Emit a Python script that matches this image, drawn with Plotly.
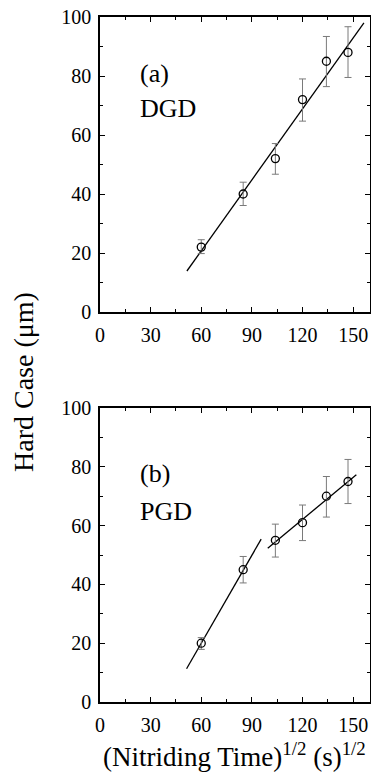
import plotly.graph_objects as go

# ---- data ----
x_time = [60, 84.85, 103.92, 120, 134.16, 146.97]

dgd_case = [22, 40, 52, 72, 85, 88]
dgd_err_plus = [2.5, 4.0, 5.1, 7.0, 8.4, 8.7]
dgd_err_minus = [2.2, 3.9, 5.3, 7.3, 8.6, 8.5]
dgd_fit_x = [51.5, 156.4]
dgd_fit_y = [13.9, 98.0]

pgd_case = [20, 45, 55, 61, 70, 75]
pgd_err_plus = [1.9, 4.5, 5.5, 6.0, 6.7, 7.5]
pgd_err_minus = [2.1, 4.5, 5.7, 6.1, 7.1, 7.5]
pgd_fit1_x = [51.3, 95.5]
pgd_fit1_y = [11.3, 55.4]
pgd_fit2_x = [99.4, 151.9]
pgd_fit2_y = [52.3, 77.3]

x_ticks = [0, 30, 60, 90, 120, 150]
y_ticks = [0, 20, 40, 60, 80, 100]

FONT = "Liberation Serif, Times New Roman, Times, serif"
err_col = "#7a7a7a"

W, H = 371, 774
ML, MR, MT, MB = 100, 1, 17, 72
PW = W - ML - MR
PH = H - MT - MB

fig = go.Figure()

def add_points(y, ep, em, xa, ya):
    fig.add_trace(go.Scatter(
        x=x_time, y=y, mode="markers", xaxis=xa, yaxis=ya,
        marker=dict(symbol="circle-open", size=8, color="black", line=dict(width=1.3, color="black")),
        error_y=dict(type="data", array=ep, arrayminus=em, color=err_col, thickness=1, width=3.5),
        showlegend=False))

def add_line(xs, ys, xa, ya):
    fig.add_trace(go.Scatter(x=xs, y=ys, mode="lines", xaxis=xa, yaxis=ya,
                             line=dict(color="black", width=1.3), showlegend=False))

add_line(dgd_fit_x, dgd_fit_y, "x", "y")
add_points(dgd_case, dgd_err_plus, dgd_err_minus, "x", "y")
add_line(pgd_fit1_x, pgd_fit1_y, "x2", "y2")
add_line(pgd_fit2_x, pgd_fit2_y, "x2", "y2")
add_points(pgd_case, pgd_err_plus, pgd_err_minus, "x2", "y2")

xcommon = dict(range=[0, 160], tickvals=x_ticks, ticks="inside", ticklen=5, tickwidth=1.2,
               tickcolor="black", showline=True, linecolor="black", linewidth=1.5,
               mirror="ticks", showgrid=False, zeroline=False, automargin=False,
               ticklabelstandoff=4,
               tickfont=dict(family=FONT, size=20, color="black"),
               minor=dict(dtick=15, tick0=0, ticks="inside", ticklen=3, tickcolor="black", showgrid=False))
ycommon = dict(range=[0, 100], tickvals=y_ticks, ticks="inside", ticklen=5, tickwidth=1.2,
               tickcolor="black", showline=True, linecolor="black", linewidth=1.5,
               mirror="ticks", showgrid=False, zeroline=False, automargin=False,
               ticklabelstandoff=3,
               tickfont=dict(family=FONT, size=20, color="black"),
               minor=dict(dtick=10, tick0=0, ticks="inside", ticklen=3, tickcolor="black", showgrid=False))

def py(pix):
    return (H - MB - pix) / PH

def px(pix):
    return (pix - ML) / PW

fig.update_layout(
    width=W, height=H,
    margin=dict(l=ML, r=MR, t=MT, b=MB),
    paper_bgcolor="white", plot_bgcolor="white",
    xaxis=dict(**xcommon, domain=[0, 1], anchor="y"),
    yaxis=dict(**ycommon, domain=[py(312), 1], anchor="x"),
    xaxis2=dict(**xcommon, domain=[0, 1], anchor="y2"),
    yaxis2=dict(**ycommon, domain=[0, py(408)], anchor="x2"),
    font=dict(family=FONT, color="black"),
)

anns = [
    dict(x=22.5, y=81, xref="x", yref="y", text="(a)", xanchor="left", yanchor="middle"),
    dict(x=22.5, y=69, xref="x", yref="y", text="DGD", xanchor="left", yanchor="middle"),
    dict(x=22.5, y=77.6, xref="x2", yref="y2", text="(b)", xanchor="left", yanchor="middle"),
    dict(x=22.5, y=64.8, xref="x2", yref="y2", text="PGD", xanchor="left", yanchor="middle"),
]
for a in anns:
    fig.add_annotation(**a, showarrow=False, font=dict(family=FONT, size=26, color="black"))

fig.add_annotation(x=px(23), y=py(382), xref="paper", yref="paper", text="Hard Case (\u03bcm)",
                   showarrow=False, textangle=-90, xanchor="center", yanchor="middle",
                   font=dict(family=FONT, size=28, color="black"))
fig.add_annotation(x=px(234), y=py(755), xref="paper", yref="paper",
                   text="(Nitriding Time)<sup>1/2</sup> (s)<sup>1/2</sup>",
                   showarrow=False, xanchor="center", yanchor="middle",
                   font=dict(family=FONT, size=27, color="black"))

fig.write_html("out.html", config={"displayModeBar": False},
               post_script="document.body.style.margin='0';document.body.style.overflow='hidden';")
